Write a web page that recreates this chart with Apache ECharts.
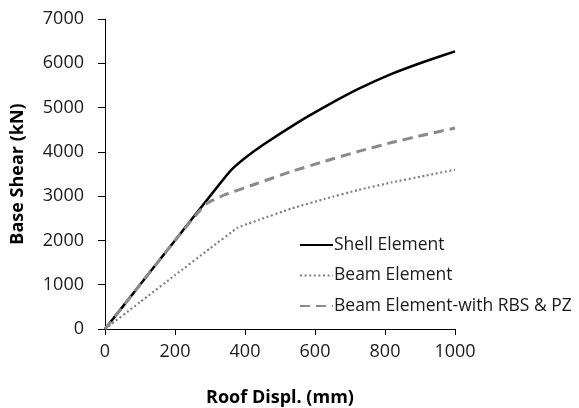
<!DOCTYPE html>
<html>
<head>
<meta charset="utf-8">
<script src="https://cdn.jsdelivr.net/npm/echarts@6/dist/echarts.min.js"></script>
<style>
  html, body { margin: 0; padding: 0; background: #fff; }
  #chart { width: 579px; height: 408px; }
</style>
</head>
<body>
<div id="chart"></div>
<script>
// Pushover curves: base shear (kN) vs roof displacement (mm)
const shellDispl = [0, 100, 200, 300, 357, 400, 452, 548, 638, 724, 819, 914, 1000];
const shellShear = [0, 1000, 2000, 3000, 3560, 3860, 4160, 4650, 5060, 5420, 5760, 6040, 6268];

const beamDispl = [0, 100, 200, 300, 380, 410, 438, 533, 629, 724, 819, 914, 1000];
const beamShear = [0, 607, 1214, 1820, 2290, 2380, 2460, 2720, 2940, 3140, 3310, 3460, 3597];

const rbsDispl = [0, 100, 200, 265, 290, 343, 438, 533, 629, 724, 819, 914, 1000];
const rbsShear = [0, 1000, 2000, 2620, 2830, 3032, 3296, 3558, 3790, 4010, 4210, 4387, 4538];

const seriesNames = ['Shell Element', 'Beam Element', 'Beam Element-with RBS & PZ'];
const xTicks = { min: 0, max: 1000, step: 200 };
const yTicks = { min: 0, max: 7000, step: 1000 };

const pairs = (xs, ys) => xs.map((x, i) => [x, ys[i]]);
const FONT = '"Open Sans", sans-serif';

const chart = echarts.init(document.getElementById('chart'), null, { renderer: 'canvas' });
chart.setOption({
  animation: false,
  backgroundColor: '#ffffff',
  textStyle: { fontFamily: FONT },
  grid: { left: 105, right: 124, top: 19, bottom: 79, containLabel: false, outerBoundsMode: 'none' },
  legend: {
    orient: 'vertical',
    left: 299,
    top: 236,
    padding: 0,
    itemWidth: 33,
    itemHeight: 14,
    itemGap: 12.5,
    itemStyle: { opacity: 0 },
    data: seriesNames,
    textStyle: { fontFamily: FONT, fontSize: 17.5, color: '#1a1a1a', padding: [0, 0, 0, -4] }
  },
  xAxis: {
    type: 'value',
    min: xTicks.min, max: xTicks.max, interval: xTicks.step,
    name: 'Roof Displ. (mm)',
    nameLocation: 'middle',
    nameGap: 60,
    nameTextStyle: { fontFamily: FONT, fontSize: 18, fontWeight: 'bold', color: '#000' },
    axisLine: { show: true, lineStyle: { color: '#000', width: 1 } },
    axisTick: { show: true, inside: false, length: 6, lineStyle: { color: '#000' } },
    axisLabel: { fontFamily: FONT, fontSize: 18, color: '#1a1a1a', margin: 14, formatter: v => String(v) },
    splitLine: { show: false }
  },
  yAxis: {
    type: 'value',
    min: yTicks.min, max: yTicks.max, interval: yTicks.step,
    name: 'Base Shear (kN)',
    nameLocation: 'middle',
    nameGap: 78,
    nameTextStyle: { fontFamily: FONT, fontSize: 18, fontWeight: 'bold', color: '#000' },
    axisLine: { show: true, lineStyle: { color: '#000', width: 1 } },
    axisTick: { show: true, inside: false, length: 7, lineStyle: { color: '#000' } },
    axisLabel: { fontFamily: FONT, fontSize: 18, color: '#1a1a1a', margin: 21, formatter: v => String(v) },
    splitLine: { show: false }
  },
  series: [
    {
      name: seriesNames[0], type: 'line', data: pairs(shellDispl, shellShear),
      showSymbol: false, symbol: 'none', smooth: 0.15,
      lineStyle: { color: '#000000', width: 2.5, type: 'solid' },
      itemStyle: { color: '#000000' }, z: 3
    },
    {
      name: seriesNames[1], type: 'line', data: pairs(beamDispl, beamShear),
      showSymbol: false, symbol: 'none', smooth: 0.15,
      lineStyle: { color: '#808080', width: 2.2, type: [2, 2.6], cap: 'butt' },
      itemStyle: { color: '#808080' }, z: 2
    },
    {
      name: seriesNames[2], type: 'line', data: pairs(rbsDispl, rbsShear),
      showSymbol: false, symbol: 'none', smooth: 0.15,
      lineStyle: { color: '#8a8a8a', width: 3, type: [10, 6], cap: 'butt' },
      itemStyle: { color: '#8a8a8a' }, z: 4
    }
  ]
});
</script>
</body>
</html>
